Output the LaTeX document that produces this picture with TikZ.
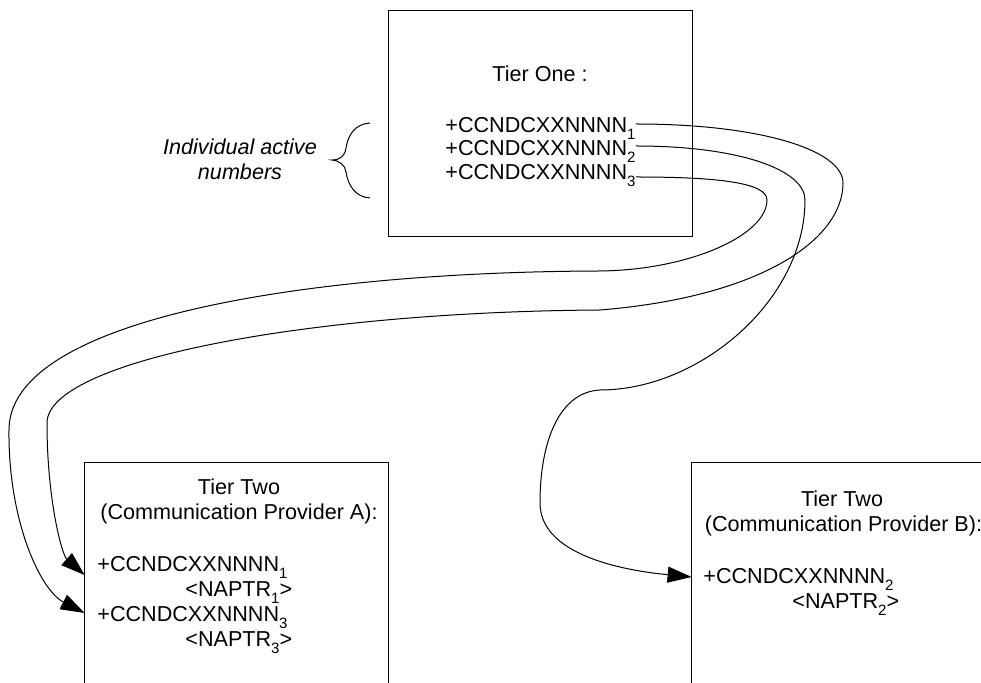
\documentclass[tikz,border=0pt]{standalone}
\usepackage{fontspec}
\setmainfont{Liberation Sans}
\usetikzlibrary{arrows.meta,calc}
\newcommand{\lsub}[1]{\raisebox{-3.3pt}{\fontsize{7.5pt}{7.5pt}\selectfont #1}}
\begin{document}
\begin{tikzpicture}[x=0.5pt,y=-0.5pt,
  txt/.style={inner sep=0pt, font=\fontsize{10.8pt}{12.5pt}\selectfont},
  itxt/.style={txt, font=\fontsize{10.8pt}{12.5pt}\selectfont\itshape},
  frame/.style={line width=0.5pt, draw=black},
  conn/.style={line width=0.5pt, -{Triangle[length=12pt,width=8pt]}},
  plainline/.style={line width=0.5pt}]
\useasboundingbox (0,0) rectangle (981,683);

% Tier One box
\node[frame, minimum width=152pt, minimum height=113pt, inner sep=0pt] (tier1) at (540,124) {};
\node[txt, anchor=base] (tier1title) at (540,82) {Tier One :};
\node[txt, anchor=base west] (t1) at (445,133) {+CCNDCXXNNNN\lsub{1}};
\node[txt, anchor=base west] (t2) at (445,156) {+CCNDCXXNNNN\lsub{2}};
\node[txt, anchor=base west] (t3) at (445,180) {+CCNDCXXNNNN\lsub{3}};

% label and brace
\node[itxt, anchor=base] (ia1) at (240,155) {Individual active};
\node[itxt, anchor=base] (ia2) at (240,180) {numbers};
\draw[plainline] (370,123) .. controls (355,124) and (348,135) .. (346,148)
  .. controls (345,156) and (340,160) .. (332,160)
  .. controls (340,161) and (345,165) .. (346,172)
  .. controls (348,185) and (355,197) .. (370,198);

% Tier Two A box (open at bottom)
\node[inner sep=0pt, minimum width=151.5pt, minimum height=110pt] (Abox) at (236.5,573) {};
\draw[plainline] (Abox.south west) |- (Abox.north east) -- (Abox.south east);
\node[txt, anchor=base] (At1) at (239,495) {Tier Two};
\node[txt, anchor=base] (At2) at (239,520) {(Communication Provider A):};
\node[txt, anchor=base west] (a1) at (97,572) {+CCNDCXXNNNN\lsub{1}};
\node[txt, anchor=base west] (a1n) at (185,597) {<NAPTR\lsub{1}>};
\node[txt, anchor=base west] (a3) at (97,622) {+CCNDCXXNNNN\lsub{3}};
\node[txt, anchor=base west] (a3n) at (185,647) {<NAPTR\lsub{3}>};

% Tier Two B box (cut at right and bottom)
\node[inner sep=0pt, minimum width=144.5pt, minimum height=110pt] (Bbox) at (836.5,573) {};
\draw[plainline] (Bbox.south west) |- (Bbox.north east);
\node[txt, anchor=base] (Bt1) at (842,507) {Tier Two};
\node[txt, anchor=base] (Bt2) at (843.5,532) {(Communication Provider B):};
\node[txt, anchor=base west] (b1) at (703,584) {+CCNDCXXNNNN\lsub{2}};
\node[txt, anchor=base west] (b1n) at (792,609) {<NAPTR\lsub{2}>};

% connectors
\draw[conn] ([yshift=4.5pt]t1.base east) .. controls (760,124) and (843,150) .. (843,183)
  .. controls (843,240) and (760,297) .. (600,310)
  .. controls (300,312) and (47,362) .. (47,423)
  .. controls (47,500) and (62,555) .. ($(a1.base west -| Abox.west)+(0,3)$);
\draw[conn] ([yshift=5pt]t2.base east) .. controls (740,146) and (805,170) .. (805,200)
  .. controls (805,300) and (700,390) .. (600,390)
  .. controls (560,392) and (540,440) .. (540,503)
  .. controls (540,560) and (640,572) .. ($(b1.base west -| Bbox.west)+(0,-7)$);
\draw[conn] ([yshift=1.5pt]t3.base east) .. controls (720,177) and (767,183) .. (767,200)
  .. controls (767,235) and (690,270) .. (600,271)
  .. controls (300,272) and (9,320) .. (9,430)
  .. controls (8,520) and (40,590) .. ($(a3.base west -| Abox.west)+(0,-9)$);
\end{tikzpicture}
\end{document}
